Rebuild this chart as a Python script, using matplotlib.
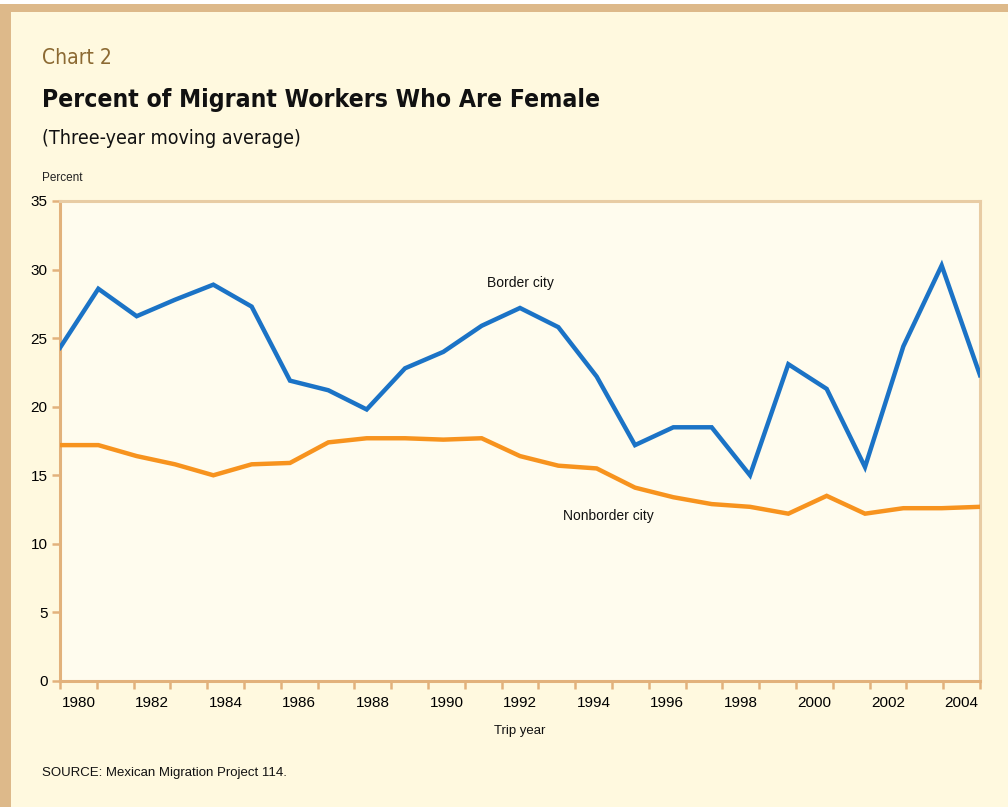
import numpy as np
import matplotlib
matplotlib.use("Agg")
import matplotlib.pyplot as plt
from matplotlib.patches import Rectangle

years = list(range(1980, 2005))
border_city = [24.3, 28.6, 26.6, 27.8, 28.9, 27.3, 21.9, 21.2, 19.8, 22.8, 24.0, 25.9, 27.2,
               25.8, 22.2, 17.2, 18.5, 18.5, 15.0, 23.1, 21.3, 15.6, 24.4, 30.3, 22.3]
nonborder_city = [17.2, 17.2, 16.4, 15.8, 15.0, 15.8, 15.9, 17.4, 17.7, 17.7, 17.6, 17.7, 16.4,
                  15.7, 15.5, 14.1, 13.4, 12.9, 12.7, 12.2, 13.5, 12.2, 12.6, 12.6, 12.7]
tick_labels = [str(y) for y in range(1980, 2005, 2)]
y_ticks = [0, 5, 10, 15, 20, 25, 30, 35]

BG = "#FFF9DF"
PLOT_BG = "#FFFCEE"
TAN = "#DDB98A"
AXIS = "#E2B27C"
BLUE = "#1B73C6"
ORANGE = "#F7931E"

fig = plt.figure(figsize=(10.08, 8.07), dpi=100, facecolor=BG)
W, H = 1008, 807

fig.patches.append(Rectangle((0, 1 - 4 / H), 1, 4 / H, transform=fig.transFigure,
                             facecolor="white", edgecolor="none", zorder=0))
fig.patches.append(Rectangle((0, 1 - 12 / H), 1, 8 / H, transform=fig.transFigure,
                             facecolor=TAN, edgecolor="none", zorder=0))
fig.patches.append(Rectangle((0, 0), 11 / W, 1 - 4 / H, transform=fig.transFigure,
                             facecolor=TAN, edgecolor="none", zorder=0))

ax = fig.add_axes([60 / W, 1 - 681 / H, 920 / W, 480 / H])
ax.set_facecolor(PLOT_BG)

ax.plot(years, border_city, color=BLUE, lw=3.2, solid_joinstyle="miter", zorder=3)
ax.plot(years, nonborder_city, color=ORANGE, lw=3.2, solid_joinstyle="miter", zorder=3)

ax.set_xlim(years[0], years[-1])
ax.set_ylim(0, 35)

n = len(years)
span = years[-1] - years[0]
bounds = [years[0] + k * span / n for k in range(n + 1)]
centers = [years[0] + (k + 0.5) * span / n for k in range(0, n, 2)]
ax.set_xticks(bounds)
ax.set_xticklabels([])
ax.set_xticks(centers, minor=True)
ax.set_xticklabels(tick_labels, minor=True, fontsize=11, family="Liberation Sans")
ax.tick_params(axis="x", which="minor", length=0, pad=11)
ax.tick_params(axis="x", which="major", length=6, width=1.8, color=AXIS, direction="out")

ax.set_yticks(y_ticks)
ax.set_yticklabels([str(v) for v in y_ticks], fontsize=11, family="Liberation Sans")
ax.tick_params(axis="y", length=6, width=1.8, color=AXIS, direction="out", pad=3)

for s in ["left", "bottom"]:
    ax.spines[s].set_color(AXIS)
    ax.spines[s].set_linewidth(2.2)
for s in ["top", "right"]:
    ax.spines[s].set_color("#E8CCA4")
    ax.spines[s].set_linewidth(2.2)

ax.text(1992.0, 29.0, "Border city", fontsize=10, family="Liberation Sans",
        ha="center", va="center", color="#111111")
ax.text(1994.3, 12.0, "Nonborder city", fontsize=10, family="Liberation Sans",
        ha="center", va="center", color="#111111")

fig.text(42 / W, 1 - 58 / H, "Chart 2", fontsize=15, family="DejaVu Sans",
         fontstretch="condensed", color="#8C6A33", va="center", ha="left")
fig.text(42 / W, 1 - 100 / H, "Percent of Migrant Workers Who Are Female", fontsize=17.7,
         family="DejaVu Sans", fontweight="bold", fontstretch="condensed",
         color="#111111", va="center", ha="left")
fig.text(42 / W, 1 - 139 / H, "(Three-year moving average)", fontsize=14,
         family="DejaVu Sans", fontstretch="condensed", color="#111111",
         va="center", ha="left")
fig.text(42 / W, 1 - 178 / H, "Percent", fontsize=8.5, family="Liberation Sans",
         color="#222222", va="center", ha="left")
fig.text(520 / W, 1 - 731 / H, "Trip year", fontsize=9.5, family="Liberation Sans",
         color="#111111", va="center", ha="center")
fig.text(42 / W, 1 - 773 / H, "SOURCE: Mexican Migration Project 114.", fontsize=9.5,
         family="Liberation Sans", color="#111111", va="center", ha="left")

fig.savefig("out.png", dpi=100, facecolor=BG)
